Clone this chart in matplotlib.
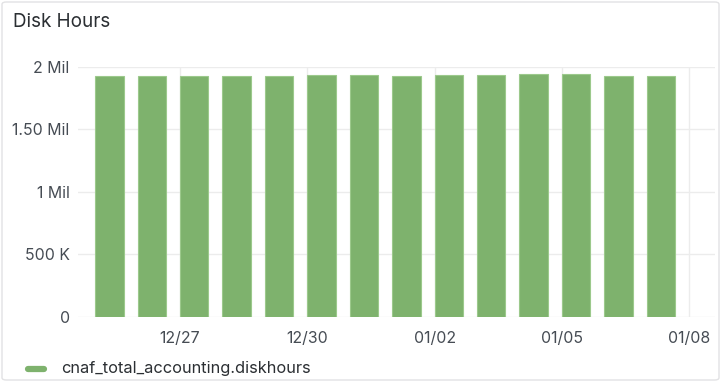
import numpy as np
import pandas as pd
import matplotlib
matplotlib.use('Agg')
import matplotlib.pyplot as plt
import matplotlib.dates as mdates
from matplotlib.patches import FancyBboxPatch

# ==============================================================================
# Data
#
days = pd.date_range('2021-12-25', '2022-01-07', freq='D')
disk_hours = [1.925e6, 1.925e6, 1.923e6, 1.923e6, 1.928e6, 1.932e6, 1.930e6,
              1.929e6, 1.931e6, 1.931e6, 1.941e6, 1.939e6, 1.928e6, 1.928e6]
y_ticks = [0, 500e3, 1e6, 1.5e6, 2e6]
y_tick_labels = ['0', '500 K', '1 Mil', '1.50 Mil', '2 Mil']
x_tick_days = pd.to_datetime(['2021-12-27', '2021-12-30', '2022-01-02',
                              '2022-01-05', '2022-01-08'])
series_name = 'cnaf_total_accounting.diskhours'
panel_title = 'Disk Hours'

# ==============================================================================
# Style
#
BAR_COLOR = '#7eb26d'
BAR_EDGE = '#9cc98c'
GRID_COLOR = '#ececec'
TEXT_COLOR = '#464c54'
TITLE_COLOR = '#2b2f33'
W, H = 722, 381

plt.rcParams['font.family'] = ['Inter', 'DejaVu Sans']

fig = plt.figure(figsize=(W / 100, H / 100), dpi=100)
fig.patch.set_facecolor('white')

# panel frame
fig.patches.append(FancyBboxPatch(
    (2 / W, 1 / H), (W - 5) / W, (H - 3) / H,
    boxstyle='round,pad=0,rounding_size=0.006',
    transform=fig.transFigure, facecolor='none',
    edgecolor='#e2e2e4', linewidth=1.0))

ax = fig.add_axes([78 / W, (H - 316.7) / H, (715 - 78) / W, 250 / H])

x = mdates.date2num(days)
ax.bar(x + 0.335, disk_hours, width=0.67, color=BAR_COLOR,
       edgecolor=BAR_EDGE, linewidth=0.8, zorder=3)

ax.set_xlim(x[0] - 0.405, x[0] + 14.61)
ax.set_ylim(0, 2e6)
ax.set_yticks(y_ticks)
ax.set_yticklabels(y_tick_labels)
ax.set_xticks(mdates.date2num(x_tick_days))
ax.xaxis.set_major_formatter(mdates.DateFormatter('%m/%d'))

ax.tick_params(axis='both', length=0, labelsize=11.4, colors=TEXT_COLOR)
ax.tick_params(axis='y', pad=6)
ax.tick_params(axis='x', pad=10)
ax.grid(True, color=GRID_COLOR, linewidth=1.0, zorder=0)
for spine in ax.spines.values():
    spine.set_visible(False)

# title and legend
fig.text(13 / W, 1 - 22 / H, panel_title, fontsize=13.6, color=TITLE_COLOR,
         va='center', ha='left')
fig.add_artist(plt.Line2D([28 / W, 44 / W], [1 - 369 / H, 1 - 369 / H],
                          color=BAR_COLOR, linewidth=4.5,
                          solid_capstyle='round', transform=fig.transFigure))
fig.text(61 / W, 1 - 369 / H, series_name, fontsize=11.8, color=TITLE_COLOR,
         va='center', ha='left')

fig.savefig('out.png', dpi=100)
